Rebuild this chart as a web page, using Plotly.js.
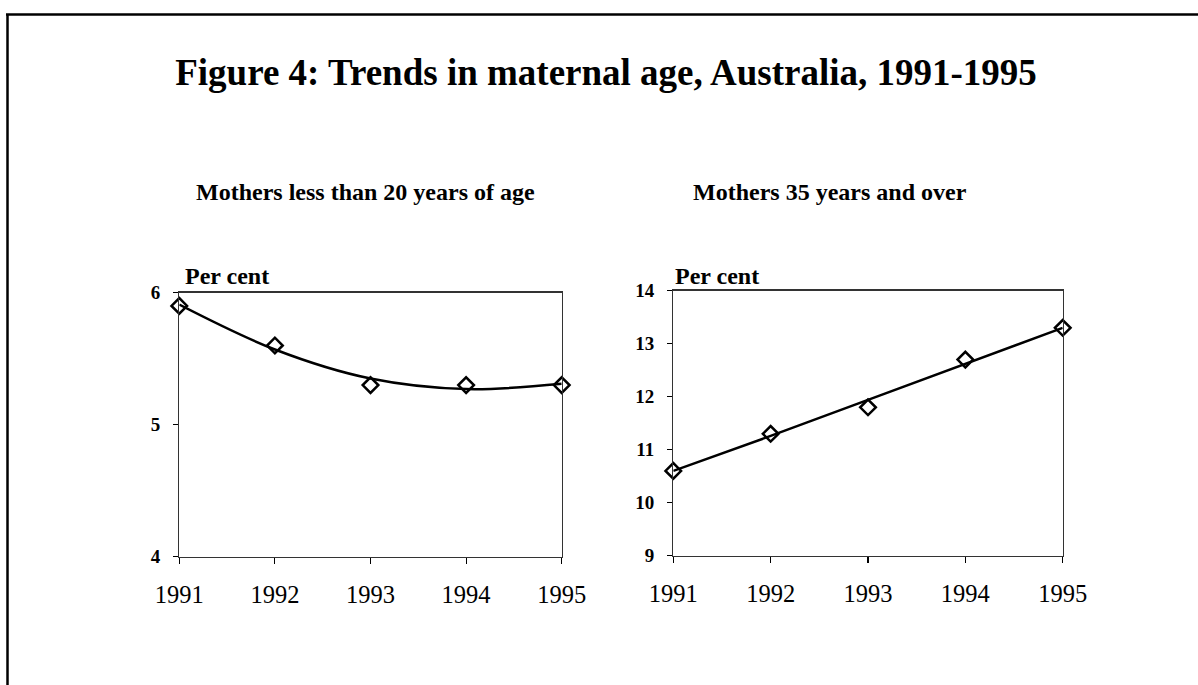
<!DOCTYPE html>
<html>
<head>
<meta charset="utf-8">
<script src="https://cdn.plot.ly/plotly-3.0.1.min.js"></script>
<style>html,body{margin:0;padding:0;background:#fff;}#chart{width:1198px;height:685px;}</style>
</head>
<body>
<div id="chart"></div>
<script>
// Data
const years = [1991, 1992, 1993, 1994, 1995];
const under20 = [5.9, 5.6, 5.3, 5.3, 5.3];          // Mothers less than 20 years of age (%)
const under20Trend = [5.91, 5.57, 5.35, 5.27, 5.31]; // trend curve
const over35 = [10.6, 11.3, 11.8, 12.7, 13.3];       // Mothers 35 years and over (%)
const over35Trend = [10.6, 11.26, 11.94, 12.62, 13.3];
const tickYears = ['1991', '1992', '1993', '1994', '1995'];

const W = 1198, H = 685;
const px = v => v / W;
const py = v => 1 - v / H;
const FONT = 'Liberation Serif';

const markerStyle = {symbol: 'diamond-open', size: 12, color: '#000', line: {color: '#000', width: 2.5}};

const traces = [
  {x: years, y: under20Trend, xaxis: 'x', yaxis: 'y', mode: 'lines', line: {color: '#000', width: 2.5, shape: 'spline', smoothing: 1}, cliponaxis: false, hoverinfo: 'skip'},
  {x: years, y: under20, xaxis: 'x', yaxis: 'y', mode: 'markers', marker: markerStyle, cliponaxis: false},
  {x: years, y: over35Trend, xaxis: 'x2', yaxis: 'y2', mode: 'lines', line: {color: '#000', width: 2.5}, cliponaxis: false, hoverinfo: 'skip'},
  {x: years, y: over35, xaxis: 'x2', yaxis: 'y2', mode: 'markers', marker: markerStyle, cliponaxis: false}
];

function xaxis(domain, anchor) {
  return {
    domain: domain, anchor: anchor, range: [1991, 1995],
    tickmode: 'array', tickvals: years, ticktext: tickYears,
    ticks: 'outside', ticklen: 6, tickwidth: 1.2, tickcolor: '#000',
    showline: true, linecolor: '#333', linewidth: 1.3, mirror: true,
    showgrid: false, zeroline: false,
    ticklabelstandoff: 10,
    tickfont: {family: FONT, size: 24.5, color: '#000'}
  };
}
function yaxis(domain, anchor, range, dtick) {
  return {
    domain: domain, anchor: anchor, range: range, dtick: dtick, tick0: range[0],
    ticks: 'outside', ticklen: 5, tickwidth: 1.2, tickcolor: '#000',
    showline: true, linecolor: '#333', linewidth: 1.3, mirror: true,
    showgrid: false, zeroline: false,
    ticklabelstandoff: 9,
    tickfont: {family: FONT, size: 19, color: '#000', weight: 'bold'}
  };
}

const layout = {
  width: W, height: H,
  margin: {l: 0, r: 0, t: 0, b: 0},
  paper_bgcolor: '#fff', plot_bgcolor: '#fff',
  showlegend: false,
  font: {family: FONT, color: '#000'},
  title: {
    text: '<b>Figure 4: Trends in maternal age, Australia, 1991-1995</b>',
    font: {family: FONT, size: 37, color: '#000'},
    x: px(606), xanchor: 'center', xref: 'paper',
    y: py(72), yanchor: 'middle', yref: 'paper'
  },
  xaxis: xaxis([px(179.3), px(561.7)], 'y'),
  yaxis: yaxis([py(556.7), py(292.7)], 'x', [4, 6], 1),
  xaxis2: xaxis([px(673.3), px(1062.7)], 'y2'),
  yaxis2: yaxis([py(555.7), py(290.7)], 'x2', [9, 14], 1),
  annotations: [
    {text: '<b>Mothers less than 20 years of age</b>', xref: 'paper', yref: 'paper', x: px(194), y: py(192), xanchor: 'left', yanchor: 'middle', showarrow: false, font: {family: FONT, size: 24, color: '#000'}},
    {text: '<b>Mothers 35 years and over</b>', xref: 'paper', yref: 'paper', x: px(691), y: py(192), xanchor: 'left', yanchor: 'middle', showarrow: false, font: {family: FONT, size: 24, color: '#000'}},
    {text: '<b>Per cent</b>', xref: 'paper', yref: 'paper', x: px(183), y: py(276), xanchor: 'left', yanchor: 'middle', showarrow: false, font: {family: FONT, size: 24, color: '#000'}},
    {text: '<b>Per cent</b>', xref: 'paper', yref: 'paper', x: px(673), y: py(276), xanchor: 'left', yanchor: 'middle', showarrow: false, font: {family: FONT, size: 24, color: '#000'}}
  ],
  shapes: [
    {type: 'line', xref: 'paper', yref: 'paper', x0: px(6), x1: 1, y0: py(14.5), y1: py(14.5), line: {color: '#000', width: 2.5}},
    {type: 'line', xref: 'paper', yref: 'paper', x0: px(7.5), x1: px(7.5), y0: py(14), y1: 0, line: {color: '#000', width: 2.5}}
  ]
};

Plotly.newPlot('chart', traces, layout, {displayModeBar: false, staticPlot: true});
</script>
</body>
</html>
